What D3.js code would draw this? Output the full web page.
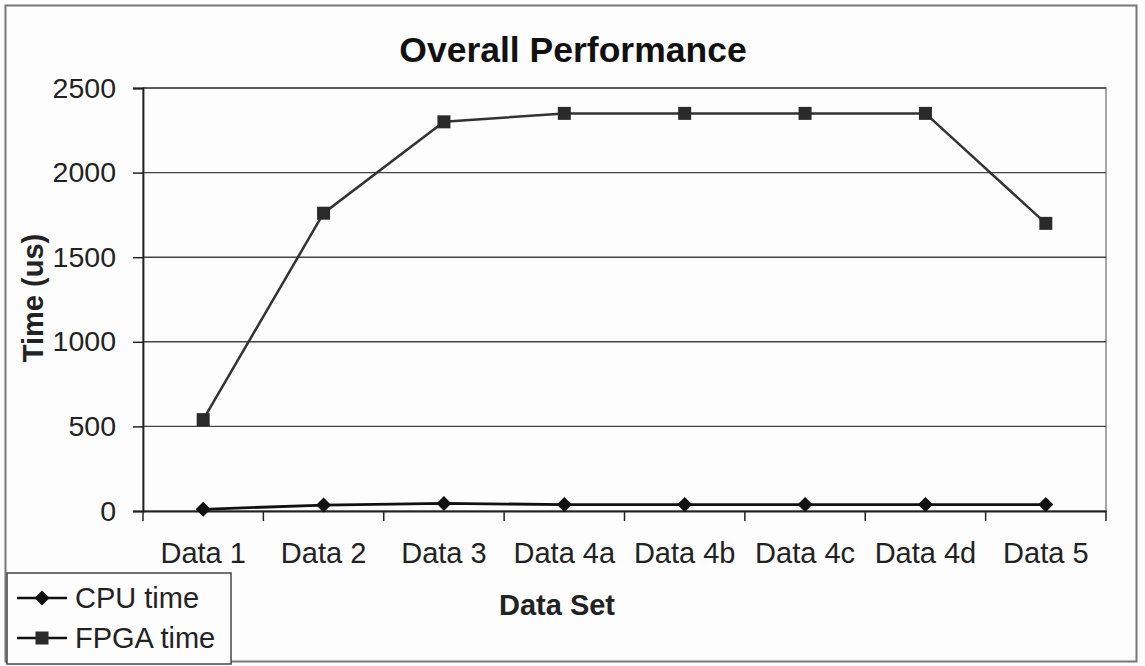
<!DOCTYPE html>
<html><head><meta charset="utf-8">
<script src="https://cdn.jsdelivr.net/npm/d3@7"></script>
<style>body{margin:0;background:#fcfcfc}svg{display:block;font-family:Arial,"Liberation Sans",sans-serif}</style>
</head><body><svg id="c" width="1145" height="666"></svg>
<script>
const categories = ["Data 1","Data 2","Data 3","Data 4a","Data 4b","Data 4c","Data 4d","Data 5"];
const cpuTime = [10, 35, 45, 38, 38, 38, 38, 38];
const fpgaTime = [540, 1760, 2300, 2350, 2350, 2350, 2350, 1700];
const yTicks = [0, 500, 1000, 1500, 2000, 2500];
const seriesNames = ["CPU time", "FPGA time"];

const svg = d3.select("#c");
const L = 143, R = 1106, T = 88, B = 511;
const x = d3.scaleBand().domain(categories).range([L, R]);
const y = d3.scaleLinear().domain([0, 2500]).range([B, T]);
const FONT = "Arial, Liberation Sans, sans-serif";

// outer border
svg.append("rect").attr("x",5.5).attr("y",5.5).attr("width",1131).attr("height",656)
  .attr("fill","#fdfdfd").attr("stroke","#777").attr("stroke-width",2);

// plot area border
svg.append("rect").attr("x",L).attr("y",T).attr("width",R-L).attr("height",B-T)
  .attr("fill","none").attr("stroke","#888").attr("stroke-width",1.5);

// gridlines
svg.append("g").selectAll("line").data(yTicks.filter(d=>d>0)).join("line")
  .attr("x1",L).attr("x2",R).attr("y1",d=>y(d)).attr("y2",d=>y(d))
  .attr("stroke","#444").attr("stroke-width",1.4);

// y axis
const ya = svg.append("g").attr("transform",`translate(${L},0)`)
  .call(d3.axisLeft(y).tickValues(yTicks).tickSize(10).tickPadding(17).tickFormat(d3.format("d")));
ya.select(".domain").attr("stroke","#222").attr("stroke-width",1.8);
ya.selectAll(".tick line").attr("stroke","#222").attr("stroke-width",1.5);
ya.selectAll("text").attr("font-size",28.5).attr("fill","#222").attr("font-family",FONT);

// x axis
const xa = svg.append("g").attr("transform",`translate(0,${B})`)
  .call(d3.axisBottom(x).tickSize(0).tickPadding(31));
xa.select(".domain").attr("stroke","#222").attr("stroke-width",1.8);
xa.selectAll("text").attr("font-size",29).attr("fill","#222").attr("font-family",FONT);
// category boundary ticks
svg.append("g").selectAll("line").data(categories.concat(["__end"])).join("line")
  .attr("x1",(d,i)=>L + i*x.step()).attr("x2",(d,i)=>L + i*x.step())
  .attr("y1",B).attr("y2",B+10).attr("stroke","#222").attr("stroke-width",1.5);

const cx = d => x(d) + x.bandwidth()/2;
const line = d3.line().x((d,i)=>cx(categories[i])).y(d=>y(d));

// FPGA series
svg.append("path").datum(fpgaTime).attr("d",line).attr("fill","none").attr("stroke","#333").attr("stroke-width",2.5);
svg.append("g").selectAll("rect").data(fpgaTime).join("rect")
  .attr("x",(d,i)=>cx(categories[i])-6.5).attr("y",d=>y(d)-6.5).attr("width",13).attr("height",13).attr("fill","#2a2a2a");

// CPU series
svg.append("path").datum(cpuTime).attr("d",line).attr("fill","none").attr("stroke","#111").attr("stroke-width",2.8);
const diamond = (px,py,s) => `M${px},${py-s}L${px+s},${py}L${px},${py+s}L${px-s},${py}Z`;
svg.append("g").selectAll("path").data(cpuTime).join("path")
  .attr("d",(d,i)=>diamond(cx(categories[i]), y(d), 7.5)).attr("fill","#111");

// title
svg.append("text").attr("x",573).attr("y",62).attr("text-anchor","middle")
  .attr("font-size",35.5).attr("font-weight","bold").attr("fill","#111").text("Overall Performance");
// axis titles
svg.append("text").attr("transform","translate(43,298) rotate(-90)").attr("text-anchor","middle")
  .attr("font-size",29).attr("font-weight","bold").attr("fill","#222").text("Time (us)");
svg.append("text").attr("x",557).attr("y",615).attr("text-anchor","middle")
  .attr("font-size",29).attr("font-weight","bold").attr("fill","#222").text("Data Set");

// legend
svg.append("rect").attr("x",7).attr("y",573).attr("width",224).attr("height",91)
  .attr("fill","#fdfdfd").attr("stroke","#444").attr("stroke-width",1.5);
const lg = svg.append("g").selectAll("g").data(seriesNames).join("g")
  .attr("transform",(d,i)=>`translate(0,${598 + i*40})`);
lg.append("line").attr("x1",17).attr("x2",67).attr("y1",0).attr("y2",0).attr("stroke","#111").attr("stroke-width",2.3);
lg.filter((d,i)=>i===0).append("path").attr("d",diamond(42,0,7.5)).attr("fill","#111");
lg.filter((d,i)=>i===1).append("rect").attr("x",35.5).attr("y",-6.5).attr("width",13).attr("height",13).attr("fill","#2a2a2a");
lg.append("text").attr("x",75).attr("y",10).attr("font-size",29).attr("fill","#222").text(d=>d);
</script></body></html>
